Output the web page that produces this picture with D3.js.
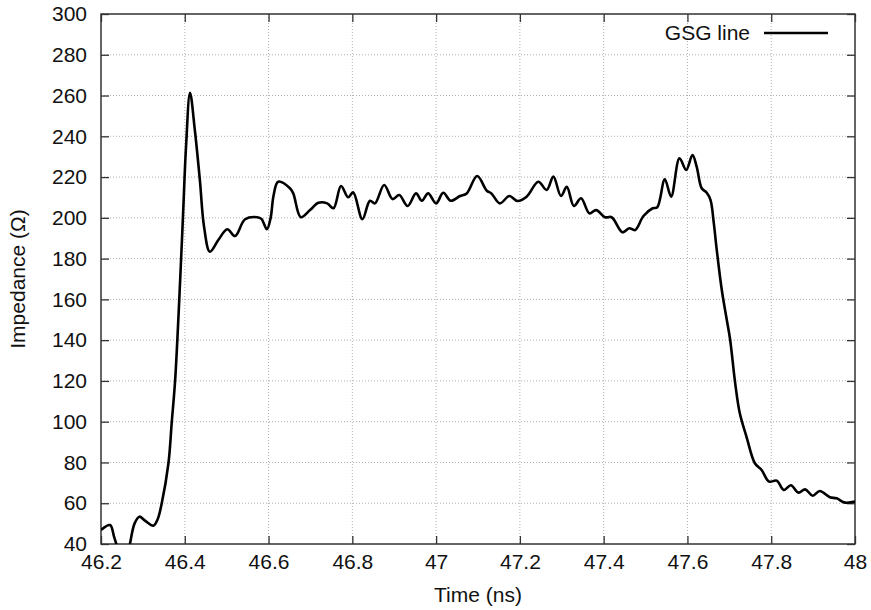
<!DOCTYPE html>
<html><head><meta charset="utf-8">
<script src="https://cdn.jsdelivr.net/npm/d3@7"></script>
<style>body{margin:0;background:#fff}svg{display:block}text{font-family:"Liberation Sans",Arial,sans-serif;fill:#111}</style>
</head><body><svg id="c" width="871" height="610"></svg>
<script>
const seriesName = "GSG line";
const xTicks = [46.2,46.4,46.6,46.8,47,47.2,47.4,47.6,47.8,48];
const yTicks = [40,60,80,100,120,140,160,180,200,220,240,260,280,300];
const time = [46.200,46.2215,46.232,46.250,46.258,46.269,46.280,46.2915,46.305,46.325,46.335,46.345,46.361,46.369,46.377,46.389,46.396,46.403,46.4125,46.424,46.436,46.446,46.460,46.480,46.5015,46.520,46.544,46.573,46.583,46.596,46.605,46.612,46.623,46.651,46.659,46.677,46.699,46.719,46.740,46.755,46.773,46.790,46.802,46.824,46.842,46.854,46.876,46.896,46.912,46.932,46.952,46.966,46.981,47.000,47.017,47.035,47.057,47.073,47.098,47.121,47.132,47.152,47.175,47.194,47.216,47.244,47.264,47.280,47.298,47.312,47.329,47.346,47.366,47.382,47.403,47.419,47.445,47.461,47.475,47.495,47.517,47.528,47.546,47.561,47.581,47.597,47.612,47.622,47.634,47.646,47.655,47.663,47.670,47.682,47.694,47.702,47.714,47.725,47.741,47.761,47.777,47.795,47.813,47.830,47.847,47.865,47.881,47.899,47.916,47.940,47.956,47.976,48.000];
const impedance = [46.9,49.3,43,32,30,40,50,53.4,51.5,49.0,52,60.0,79.6,100,120.4,169.5,202.2,234.9,261.4,243.1,218.6,195.7,183.4,189.1,194.4,191.1,199.3,200.3,199.5,194.4,200,211,217.7,214.5,212,200.3,203.8,207.4,207.1,204.7,215.6,210.1,212.5,199.3,208.4,207.1,216.1,209.2,211.2,205.8,212,208.4,212,207.1,212.3,208.4,210.7,212,220.5,213.3,212,207.1,210.7,208.3,210.4,217.7,213.7,220.2,210.7,215.2,205.8,209.6,202.2,203.8,200.3,200.3,192.9,194.9,194.0,200.9,204.7,205.2,218.9,210.4,229.2,223.5,230.8,225.1,214.5,212.3,208.8,197.3,184.2,164.6,149.9,140.1,118.8,104.1,92.6,79.6,76.3,70.6,71.1,66.5,68.8,65.2,66.8,63.7,66.0,62.9,62.4,60.3,60.8];

const W=871,H=610,m={l:101,r:16,t:14,b:66};
const svg=d3.select("#c");
const x=d3.scaleLinear().domain([46.2,48]).range([m.l,W-m.r]);
const y=d3.scaleLinear().domain([40,300]).range([H-m.b,m.t]);
const fs=21;

// grid
const g=svg.append("g");
g.selectAll(".gx").data(xTicks.slice(1,-1)).join("line")
 .attr("x1",d=>x(d)).attr("x2",d=>x(d)).attr("y1",m.t).attr("y2",H-m.b)
 .attr("stroke","#b0b0b0").attr("stroke-width",1).attr("stroke-dasharray","1,2");
g.selectAll(".gy").data(yTicks.slice(1,-1)).join("line")
 .attr("y1",d=>y(d)).attr("y2",d=>y(d)).attr("x1",m.l).attr("x2",W-m.r)
 .attr("stroke","#b0b0b0").attr("stroke-width",1).attr("stroke-dasharray","1,2");

// axes (inner ticks, mirrored)
const tl=8;
const ax=svg.append("g");
ax.append("g").attr("transform",`translate(0,${H-m.b})`).call(d3.axisBottom(x).tickValues(xTicks).tickFormat(d3.format("")).tickSizeInner(-tl).tickSizeOuter(0).tickPadding(10));
ax.append("g").attr("transform",`translate(0,${m.t})`).call(d3.axisTop(x).tickValues(xTicks).tickFormat("").tickSizeInner(-tl).tickSizeOuter(0));
ax.append("g").attr("transform",`translate(${m.l},0)`).call(d3.axisLeft(y).tickValues(yTicks).tickFormat(d3.format("")).tickSizeInner(-tl).tickSizeOuter(0).tickPadding(14));
ax.append("g").attr("transform",`translate(${W-m.r},0)`).call(d3.axisRight(y).tickValues(yTicks).tickFormat("").tickSizeInner(-tl).tickSizeOuter(0));
ax.selectAll(".domain").remove();
ax.selectAll(".tick line").attr("stroke","#333").attr("stroke-width",1.3);
ax.selectAll(".tick text").style("font-size",fs+"px").style("font-family","'Liberation Sans',Arial,sans-serif").attr("fill","#111");

// frame
svg.append("rect").attr("x",m.l).attr("y",m.t).attr("width",W-m.l-m.r).attr("height",H-m.t-m.b)
 .attr("fill","none").attr("stroke","#333").attr("stroke-width",1.5);

// line
svg.append("clipPath").attr("id","clip").append("rect").attr("x",m.l).attr("y",m.t).attr("width",W-m.l-m.r).attr("height",H-m.t-m.b);
const data=time.map((t,i)=>[t,impedance[i]]);
svg.append("path").datum(data).attr("clip-path","url(#clip)")
 .attr("d",d3.line().x(d=>x(d[0])).y(d=>y(d[1])).curve(d3.curveCatmullRom.alpha(0.5)))
 .attr("fill","none").attr("stroke","#000").attr("stroke-width",2.6).attr("stroke-linejoin","round");

// legend
svg.append("text").attr("x",750).attr("y",40).attr("text-anchor","end").style("font-size",fs+"px").text(seriesName);
svg.append("line").attr("x1",764).attr("x2",828).attr("y1",33).attr("y2",33).attr("stroke","#000").attr("stroke-width",2.6);

// titles
svg.append("text").attr("x",(m.l+W-m.r)/2).attr("y",602).attr("text-anchor","middle").style("font-size","21px").text("Time (ns)");
svg.append("text").attr("transform",`translate(25,${(m.t+H-m.b)/2}) rotate(-90)`).attr("text-anchor","middle").style("font-size","21px").text("Impedance (Ω)");
</script></body></html>
